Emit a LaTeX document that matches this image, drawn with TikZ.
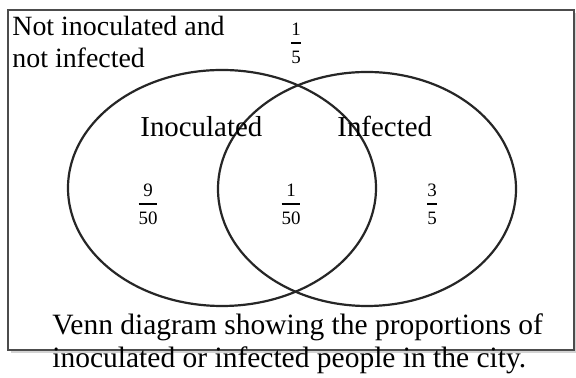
\documentclass[tikz,border=0pt]{standalone}
\usepackage{amsmath}
\usepackage{fontspec}
\setmainfont{Liberation Serif}
\usetikzlibrary{shadows,shapes.geometric}

\newcommand{\share}[2]{$\genfrac{}{}{1.1pt}{0}{\text{#1}}{\text{#2}}$}

\begin{document}
\begin{tikzpicture}[x=0.5bp,y=-0.5bp,
  txt/.style={font=\fontsize{14}{16}\selectfont,inner sep=0pt,align=left},
  frc/.style={font=\fontsize{9.5}{10}\selectfont,inner sep=0pt},
  setline/.style={draw=black!85,line width=1.1bp}]
\useasboundingbox (0,0) rectangle (576,378);

%============================== frame ==============================
\draw[draw=black!70,line width=1.4bp,fill=white,
      drop shadow={shadow xshift=1.5bp,shadow yshift=-1.5bp,opacity=0.35}]
  (8,10) rectangle (574,350);

%============================== the two sets ==============================
\draw[setline] (222,188) ellipse [x radius=154,y radius=118];
\draw[setline] (367,189) ellipse [x radius=149,y radius=117];

\node[txt,anchor=base west,font=\fontsize{14.5}{16}\selectfont] (inoc) at (140,137) {Inoculated};
\node[txt,anchor=base west,font=\fontsize{14.5}{16}\selectfont] (infe) at (337,137) {Infected};

%============================== proportions ==============================
\node[txt,anchor=north west] (outside) at (12,16) {Not inoculated and\\not infected};
\node[frc] (pout) at (296,43) {\share{1}{5}};
\node[frc] (pinoc) at (148,204) {\share{9}{50}};
\node[frc] (pboth) at (291,204) {\share{1}{50}};
\node[frc] (pinfe) at (432,204) {\share{3}{5}};

%============================== caption ==============================
\node[txt,anchor=north west,font=\fontsize{14.8}{16.5}\selectfont] (cap) at (52,313)
  {Venn diagram showing the proportions of\\inoculated or infected people in the city.};
\end{tikzpicture}
\end{document}
